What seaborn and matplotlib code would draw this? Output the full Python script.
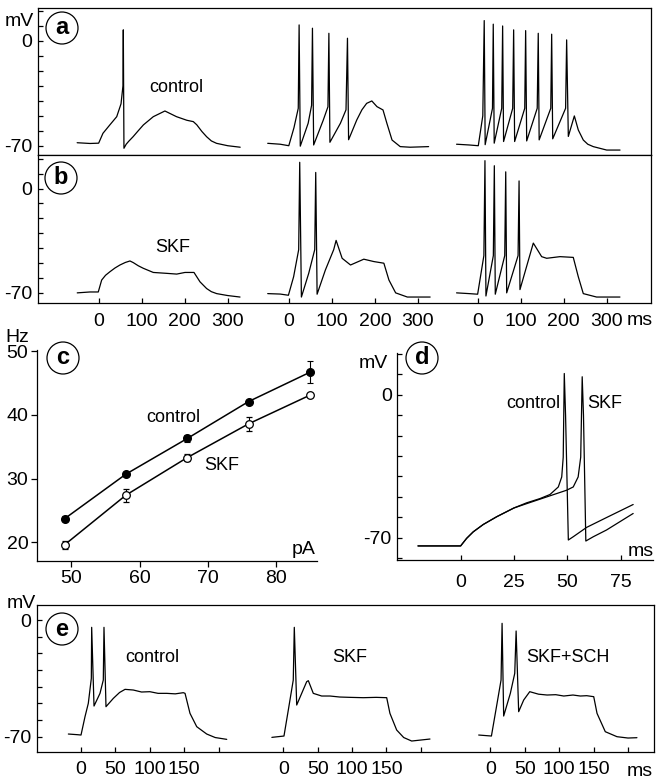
import numpy as np
import pandas as pd
import matplotlib
matplotlib.use("Agg")
import matplotlib.pyplot as plt
from matplotlib.patches import Ellipse
import seaborn as sns

sns.set_style("ticks")
plt.rcParams["font.family"] = ["Liberation Sans", "DejaVu Sans"]
plt.rcParams["axes.edgecolor"] = "black"
plt.rcParams["xtick.color"] = "black"
plt.rcParams["ytick.color"] = "black"
plt.rcParams["text.color"] = "black"

# ---- panel a: control, three current steps (ms, mV)
a1_t = [-50, -20, 0, 10, 26, 42, 52, 56.5, 57.3, 58.8, 64, 70, 80, 92, 104, 127, 154, 181, 205, 220, 228, 240, 251, 262, 274, 300, 329]
a1_v = [-68.0, -68.5, -68.3, -61.7, -56.1, -50.6, -42, -30, 7.4, -71.7, -69, -67, -64, -60, -56.1, -50.6, -46.8, -50.6, -53, -53.9, -56, -60.5, -64, -66.8, -68.4, -70, -71]
a2_t = [-49, -20, 0, 12, 22, 24, 26.7, 45, 53, 55, 57.8, 80, 91, 93.2, 95.6, 120, 133, 136.4, 139, 158, 170, 181, 193, 205, 219, 228, 240, 259, 282, 325]
a2_v = [-68.4, -69, -70, -58, -45, 10.7, -70.3, -55, -43, 8.5, -69.5, -53, -44, 5.1, -67.7, -55, -46, 1.8, -66, -52.8, -46, -41.7, -40.1, -43.9, -46.1, -55, -66.2, -70.6, -71, -70.6]
a3_t = [-49, -20, 1.5, 12, 15.3, 17.5, 34.5, 36.3, 38.5, 56, 58.1, 60.3, 81.5, 83.7, 86, 109.5, 111.6, 114,
        138.5, 140.9, 143, 170, 172.1, 174.5, 204.5, 206.9, 210.8, 224.8, 234, 245.6, 256, 268.8, 300, 331]
a3_v = [-69, -69.5, -70, -50, 13.6, -69.3, -45, 11.2, -68.3, -45, 10.0, -67.2, -45, 7.4, -67.2, -45, 6.9, -66.8,
        -45, 5.1, -66.1, -45, 4.5, -65.4, -45, 0.7, -63.8, -50.1, -59.5, -66.2, -69, -70.6, -72.9, -72.9]

# ---- panel b: SKF
b1_t = [-49.8, -20.2, -0.9, 7, 16, 26.3, 38, 49.5, 62, 72.8, 80.5, 92, 103.7, 127, 158, 181.4, 200.7, 221.6, 235.6, 251, 262, 274.4, 300, 328.6]
b1_v = [-70, -69.4, -69.4, -61.4, -58.2, -55.8, -53.3, -51.3, -49.6, -48.6, -49.7, -51.8, -53.5, -56.3, -56.9, -57.4, -56.3, -56.3, -62.6, -67.1, -69.2, -70.5, -71.8, -72.8]
b2_t = [-49, -20, -0.9, 11.2, 23, 25.4, 29.3, 46.3, 60.3, 62.6, 65.8, 85, 104.4, 110, 124, 143.5, 174.4, 197.7, 221, 232.8, 248.4, 275.6, 328.6]
b2_v = [-70.5, -70.8, -71.6, -59.2, -41, 17.6, -72.8, -56.9, -41, 10.8, -70.9, -54.7, -41, -34.8, -46.8, -51.3, -47.4, -49, -50.1, -61.4, -70, -72.8, -72.8]
b3_t = [-49, -20, 0, 14.5, 17, 19.3, 36.5, 38.8, 41, 63, 65.3, 67.5, 94, 96.3, 98.4, 129.4, 148.8, 160.5, 191.4, 222.3, 234, 245.6, 276.5, 330.8]
b3_v = [-70, -70.5, -70.9, -45, 18.7, -72.1, -45, 15.3, -70.9, -45, 11.2, -70, -45, 5.1, -67.8, -36.6, -45.7, -46.8, -45.7, -46.2, -59.2, -70.5, -72.8, -72.8]

# ---- panel c: frequency vs current
c_pa = [49, 58, 67, 76, 85]
c_ctrl = [23.7, 30.7, 36.3, 42.1, 46.7]
c_ctrl_err = [0.4, 0.3, 0.5, 0.3, 1.7]
c_skf = [19.6, 27.4, 33.3, 38.6, 43.1]
c_skf_err = [0.6, 1.0, 0.5, 1.1, 0.3]

# ---- panel d: first spike, control vs SKF
d_ctrl_t = [-20, -10, 0, 2.8, 5.9, 10.6, 16.9, 25, 30.9, 37.2, 41.9, 45.8, 47.4, 48.1, 48.6, 49.2, 50.5, 52.8, 59.1, 68.4, 80.9]
d_ctrl_v = [-74.1, -74.1, -74.1, -70.4, -67.2, -63.6, -59.8, -55.5, -53, -50.9, -48.9, -45.2, -40.3, -30.6, 10.4, -10, -71.2, -69.6, -65, -60.2, -53.8]
d_skf_t = [-20, -10, 0, 2.8, 5.9, 10.6, 16.9, 25, 30.9, 40.3, 49.7, 52.8, 55.1, 56.3, 57, 57.6, 58.7, 62.2, 68.4, 80.9]
d_skf_v = [-74.1, -74.1, -74.1, -70.4, -67.2, -63.6, -59.8, -55.5, -53.4, -50.1, -46.8, -45.2, -40.3, -30.6, 8.8, -10, -71.7, -69.6, -66.3, -58.2]

# ---- panel e: control, SKF, SKF+SCH
e1_t = [-18.4, -5, 0, 5.8, 10.6, 15, 15.5, 18.9, 27.6, 32.4, 33.4, 36.3, 47, 56, 64, 76, 88, 100, 112, 124.6, 137, 148.7, 151.2, 158.4, 168.2, 182.7, 195, 211.8]
e1_v = [-68.4, -68.8, -69, -58, -50, -35, -4.4, -51.6, -44, -36, -4.4, -52, -47, -43.5, -41.6, -42, -43.2, -43, -44, -44, -44.3, -43.6, -44, -56, -64, -68.4, -70.5, -71.6]
e2_t = [-16.6, 1, 7.3, 14.5, 16, 19.5, 34, 36.4, 43.6, 55.8, 67.9, 82, 97, 116.3, 135, 150.3, 155, 164.8, 175, 186.6, 213.2]
e2_v = [-70.4, -69.6, -54, -36, -4.4, -51, -37, -36.4, -44, -45.6, -45.6, -46.2, -46.4, -46.6, -46.4, -46.6, -56, -66, -70.5, -72.6, -71.4]
e3_t = [-17, 1.5, 9.7, 15.5, 17, 19.3, 29, 35.4, 37.4, 41.1, 48.4, 57.2, 70, 82.4, 95, 106.7, 120, 130.8, 140, 150.2, 155, 167, 184, 200, 213]
e3_v = [-69, -69.6, -50, -36, -2, -57.6, -44, -32, -6.6, -55, -48, -43, -44.5, -45, -44.8, -45.6, -45, -45.6, -45.4, -46, -56, -67, -70, -70.8, -70.6]

ab_ticks = [0, 100, 200, 300]
e_ticks = [0, 50, 100, 150, 200]
e_ticklabels = ["0", "50", "100", "150", ""]

W, H = 664, 784
fig = plt.figure(figsize=(W / 100, H / 100), dpi=100)
FS = 14      # tick labels and units
FA = 13      # annotations


def box(l, t, r, b):
    return [l / W, 1 - b / H, (r - l) / W, (b - t) / H]


def ftext(x, y, s, size=FA):
    fig.text(x / W, 1 - y / H, s, ha="center", va="center", fontsize=size)


def circle_label(x, y, s):
    fig.add_artist(Ellipse((x / W, 1 - y / H), 32 / W, 32 / H, transform=fig.transFigure,
                           fc="white", ec="black", lw=0.9, zorder=5))
    fig.text(x / W, 1 - y / H, s, ha="center", va="center", fontsize=17,
             fontweight="bold", zorder=6)


def draw_traces(ax, items):
    frames = []
    for name, (t, v, off) in items.items():
        frames.append(pd.DataFrame({"t": np.array(t) + off, "v": v, "trace": name}))
    df = pd.concat(frames, ignore_index=True)
    sns.lineplot(data=df, x="t", y="v", units="trace", estimator=None, sort=False,
                 color="black", lw=0.9, ax=ax, legend=False)
    ax.set_xlabel("")
    ax.set_ylabel("")


def mv_axis(ax, ticks, labeled):
    ax.set_yticks(ticks)
    ax.set_yticklabels([str(t) if t in labeled else "" for t in ticks])
    for sp in ax.spines.values():
        sp.set_linewidth(0.9)
    ax.tick_params(direction="in", length=3.5, width=0.9, labelsize=FS, pad=4)


# panels a and b share the time axis; three sweeps side by side
ab_off = [0, 442, 881]
ax_a = fig.add_axes(box(38, 8, 651, 155))
draw_traces(ax_a, {"a1": (a1_t, a1_v, ab_off[0]), "a2": (a2_t, a2_v, ab_off[1]), "a3": (a3_t, a3_v, ab_off[2])})
ax_a.set_xlim(-141, 1284)
ax_a.set_ylim(-76.2, 22)
mv_axis(ax_a, list(range(-70, 21, 10)), [0, -70])
ax_a.set_xticks([])

ax_b = fig.add_axes(box(38, 155, 651, 303.3))
draw_traces(ax_b, {"b1": (b1_t, b1_v, ab_off[0]), "b2": (b2_t, b2_v, ab_off[1]), "b3": (b3_t, b3_v, ab_off[2])})
ax_b.set_xlim(-141, 1284)
ax_b.set_ylim(-77, 22.5)
mv_axis(ax_b, list(range(-70, 21, 10)), [0, -70])
ax_b.set_xticks([o + t for o in ab_off for t in ab_ticks])
ax_b.set_xticklabels([str(t) for o in ab_off for t in ab_ticks])
ax_b.tick_params(axis="x", pad=7)

# panel c
ax_c = fig.add_axes(box(36.7, 350, 316.7, 560.7))
sns.lineplot(x=c_pa, y=c_ctrl, color="black", lw=1.1, ax=ax_c)
sns.lineplot(x=c_pa, y=c_skf, color="black", lw=1.1, ax=ax_c)
ax_c.errorbar(c_pa, c_ctrl, yerr=c_ctrl_err, fmt="o", color="black", mfc="black",
              ms=5.5, capsize=2.5, elinewidth=0.8, capthick=0.8, zorder=3)
ax_c.errorbar(c_pa, c_skf, yerr=c_skf_err, fmt="o", color="black", mfc="white",
              ms=5.5, mew=0.9, capsize=2.5, elinewidth=0.8, capthick=0.8, zorder=3)
ax_c.set_xlim(44.9, 86)
ax_c.set_ylim(17.1, 50.2)
ax_c.set_xticks([50, 60, 70, 80])
ax_c.set_yticks([20, 30, 40, 50])
sns.despine(ax=ax_c)
for sp in ax_c.spines.values():
    sp.set_linewidth(0.9)
ax_c.tick_params(direction="out", length=4, width=0.9, labelsize=FS)
ax_c.tick_params(axis="x", pad=3)
ax_c.tick_params(axis="y", pad=2)

# panel d
ax_d = fig.add_axes(box(397.3, 353.3, 653, 560))
draw_traces(ax_d, {"ctrl": (d_ctrl_t, d_ctrl_v, 0), "skf": (d_skf_t, d_skf_v, 0)})
ax_d.set_xlim(-29.7, 90.2)
ax_d.set_ylim(-81, 20.3)
mv_axis(ax_d, list(range(-80, 21, 10)), [0, -70])
ax_d.set_xticks([0, 25, 50, 75])
ax_d.tick_params(axis="x", pad=10)
sns.despine(ax=ax_d)

# panel e
e_off = [0, 294, 595]
ax_e = fig.add_axes(box(36.7, 605, 654, 751.7))
draw_traces(ax_e, {"e1": (e1_t, e1_v, e_off[0]), "e2": (e2_t, e2_v, e_off[1]), "e3": (e3_t, e3_v, e_off[2])})
ax_e.set_xlim(-64.4, 832.8)
ax_e.set_ylim(-79, 9)
mv_axis(ax_e, list(range(-70, 1, 10)), [0, -70])
ax_e.set_xticks([o + t for o in e_off for t in e_ticks])
ax_e.set_xticklabels([l for o in e_off for l in e_ticklabels])
ax_e.tick_params(axis="x", pad=7)

# units and annotations
ftext(19, 21, "mV", FS)
ftext(640, 321, "ms", FS)
ftext(176, 88, "control")
ftext(173, 248, "SKF")
ftext(17, 337, "Hz", FS)
ftext(304, 550, "pA", FS)
ftext(173, 418, "control")
ftext(222, 466, "SKF")
ftext(373, 363, "mV", FS)
ftext(641, 552, "ms", FS)
ftext(533, 404, "control")
ftext(605, 404, "SKF")
ftext(21, 604, "mV", FS)
ftext(152, 657, "control")
ftext(350, 657, "SKF")
ftext(568, 657, "SKF+SCH")
ftext(640, 771, "ms", FS)

circle_label(62, 28, "a")
circle_label(61, 178, "b")
circle_label(63, 358, "c")
circle_label(422, 358, "d")
circle_label(62, 629, "e")

fig.savefig("out.png", dpi=100)
